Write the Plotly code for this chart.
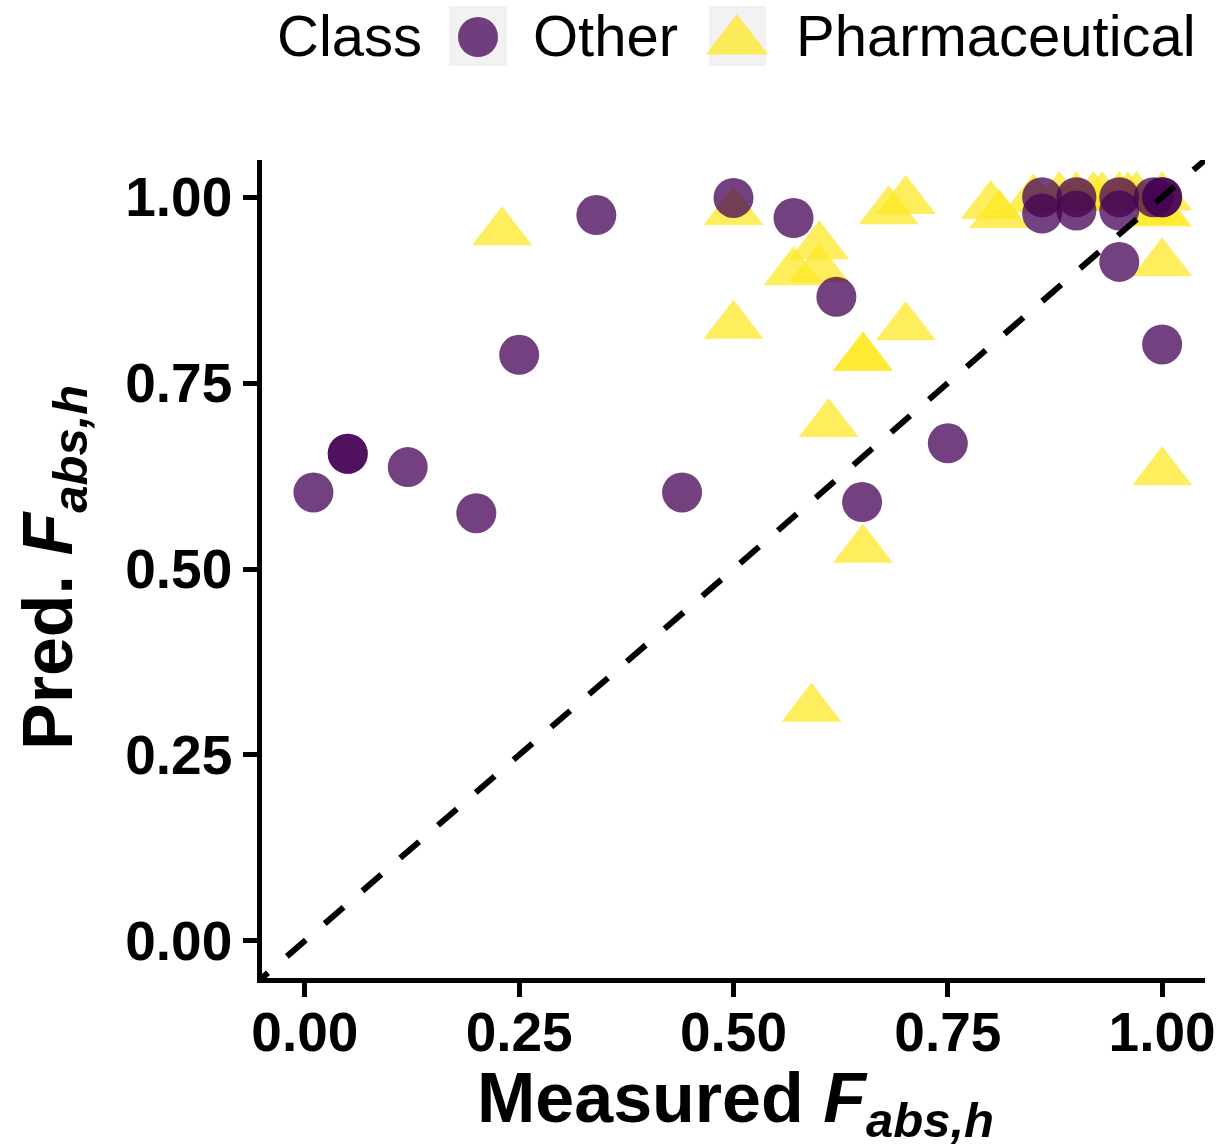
import plotly.graph_objects as go

# ---------------- data ----------------
other_x = [0.01, 0.05, 0.05, 0.12, 0.20, 0.25, 0.34, 0.44, 0.50, 0.57, 0.62, 0.65,
           0.75, 0.86, 0.86, 0.90, 0.90, 0.95, 0.95, 0.95, 0.99, 1.00, 1.00, 1.00]
other_y = [0.603, 0.655, 0.655, 0.637, 0.575, 0.788, 0.976, 0.603, 0.999, 0.972, 0.866, 0.590,
           0.669, 1.000, 0.978, 1.000, 0.982, 1.000, 0.982, 0.913, 1.000, 1.000, 1.000, 0.802]

pharm_x = [0.23, 0.50, 0.50, 0.57, 0.60, 0.60, 0.611, 0.651, 0.651, 0.651, 0.591, 0.701,
           0.681, 0.701, 0.80, 0.81, 0.85, 0.88, 0.90, 0.92, 0.93, 0.95, 0.96, 0.97,
           1.00, 1.00, 0.995, 1.00, 1.00]
pharm_y = [0.953, 0.980, 0.827, 0.899, 0.934, 0.903, 0.695, 0.784, 0.784, 0.526, 0.312, 0.825,
           0.981, 0.995, 0.988, 0.976, 0.997, 1.000, 1.000, 1.000, 1.000, 1.000, 1.000, 1.000,
           1.000, 0.978, 0.980, 0.911, 0.630]

tick_vals = [0.00, 0.25, 0.50, 0.75, 1.00]
tick_text = ["0.00", "0.25", "0.50", "0.75", "1.00"]
axis_range = [-0.05, 1.05]
class_names = ["Other", "Pharmaceutical"]

PURPLE = "#440154"
YELLOW = "#FDE725"
FONT = "Liberation Sans, Arial, sans-serif"
W, H = 1225, 1144

fig = go.Figure()

fig.add_trace(go.Scatter(
    x=pharm_x, y=pharm_y, mode="markers", name=class_names[1],
    marker=dict(symbol="triangle-up", size=52, color=YELLOW, opacity=0.75, line=dict(width=0)),
    showlegend=False, hoverinfo="skip"))
fig.add_trace(go.Scatter(
    x=other_x, y=other_y, mode="markers", name=class_names[0],
    marker=dict(symbol="circle", size=40, color=PURPLE, opacity=0.75, line=dict(width=0)),
    showlegend=False, hoverinfo="skip"))

# identity line y = x (extended slightly past the panel so the dash phase matches)
line_start = axis_range[0] - 0.015
line_end = axis_range[1] + 0.05
fig.add_trace(go.Scatter(
    x=[line_start, line_end], y=[line_start, line_end], mode="lines",
    line=dict(color="black", width=6, dash="25px,25px"),
    showlegend=False, hoverinfo="skip"))

# ---------------- manual legend (keys on a pixel overlay axis) ----------------
fig.add_trace(go.Scatter(
    x=[478], y=[37], mode="markers", xaxis="x2", yaxis="y2",
    marker=dict(symbol="circle", size=40, color=PURPLE, opacity=0.75, line=dict(width=0)),
    showlegend=False, hoverinfo="skip"))
fig.add_trace(go.Scatter(
    x=[737], y=[41], mode="markers", xaxis="x2", yaxis="y2",
    marker=dict(symbol="triangle-up", size=54, color=YELLOW, opacity=0.75, line=dict(width=0)),
    showlegend=False, hoverinfo="skip"))

def px(x):
    return x / W

def py(y):
    return 1 - y / H

shapes = []
for x0, x1 in [(449, 507), (709, 766)]:
    shapes.append(dict(type="rect", xref="paper", yref="paper",
                       x0=px(x0), x1=px(x1), y0=py(66), y1=py(6),
                       fillcolor="#F2F2F2", line=dict(width=0), layer="below"))

annotations = [
    dict(text="Class", x=px(275), y=py(36), xref="paper", yref="paper",
         xanchor="left", yanchor="middle", showarrow=False,
         font=dict(family=FONT, size=58, color="black")),
    dict(text=class_names[0], x=px(531), y=py(36), xref="paper", yref="paper",
         xanchor="left", yanchor="middle", showarrow=False,
         font=dict(family=FONT, size=58, color="black")),
    dict(text=class_names[1], x=px(794), y=py(36), xref="paper", yref="paper",
         xanchor="left", yanchor="middle", showarrow=False,
         font=dict(family=FONT, size=58, color="black")),
    # axis titles
    dict(text="<b>Measured <i>F</i><sub><i>abs,h</i></sub></b>", x=px(735), y=py(1103),
         xref="paper", yref="paper", xanchor="center", yanchor="middle", showarrow=False,
         font=dict(family=FONT, size=70, color="black")),
    dict(text="<b>Pred. <i>F</i><sub><i>abs,h</i></sub></b>", x=px(53), y=py(568),
         xref="paper", yref="paper", xanchor="center", yanchor="middle", showarrow=False,
         textangle=-90, font=dict(family=FONT, size=70, color="black")),
]

axis_common = dict(
    range=axis_range, tickvals=tick_vals, ticktext=tick_text,
    showgrid=False, zeroline=False, showline=True, linecolor="black", linewidth=4.5,
    ticks="outside", ticklen=14, tickwidth=4.5, tickcolor="black",
    tickfont=dict(family=FONT, size=55, color="black", weight="bold"),
    fixedrange=True, automargin=False,
)

fig.update_layout(
    template="none",
    width=W, height=H,
    margin=dict(l=0, r=0, t=0, b=0, pad=0),
    paper_bgcolor="white", plot_bgcolor="rgba(0,0,0,0)",
    xaxis=dict(domain=[262 / W, 1205 / W], anchor="y", ticklabelstandoff=-12, **axis_common),
    yaxis=dict(domain=[1 - 978 / H, 1 - 160 / H], anchor="x", ticklabelstandoff=0, **axis_common),
    xaxis2=dict(domain=[0, 1], range=[0, W], visible=False, anchor="y2",
                fixedrange=True, automargin=False),
    yaxis2=dict(domain=[0, 1], range=[H, 0], visible=False, anchor="x2",
                fixedrange=True, automargin=False),
    shapes=shapes, annotations=annotations,
    showlegend=False,
)

fig.write_html("out.html", config={"displayModeBar": False})
